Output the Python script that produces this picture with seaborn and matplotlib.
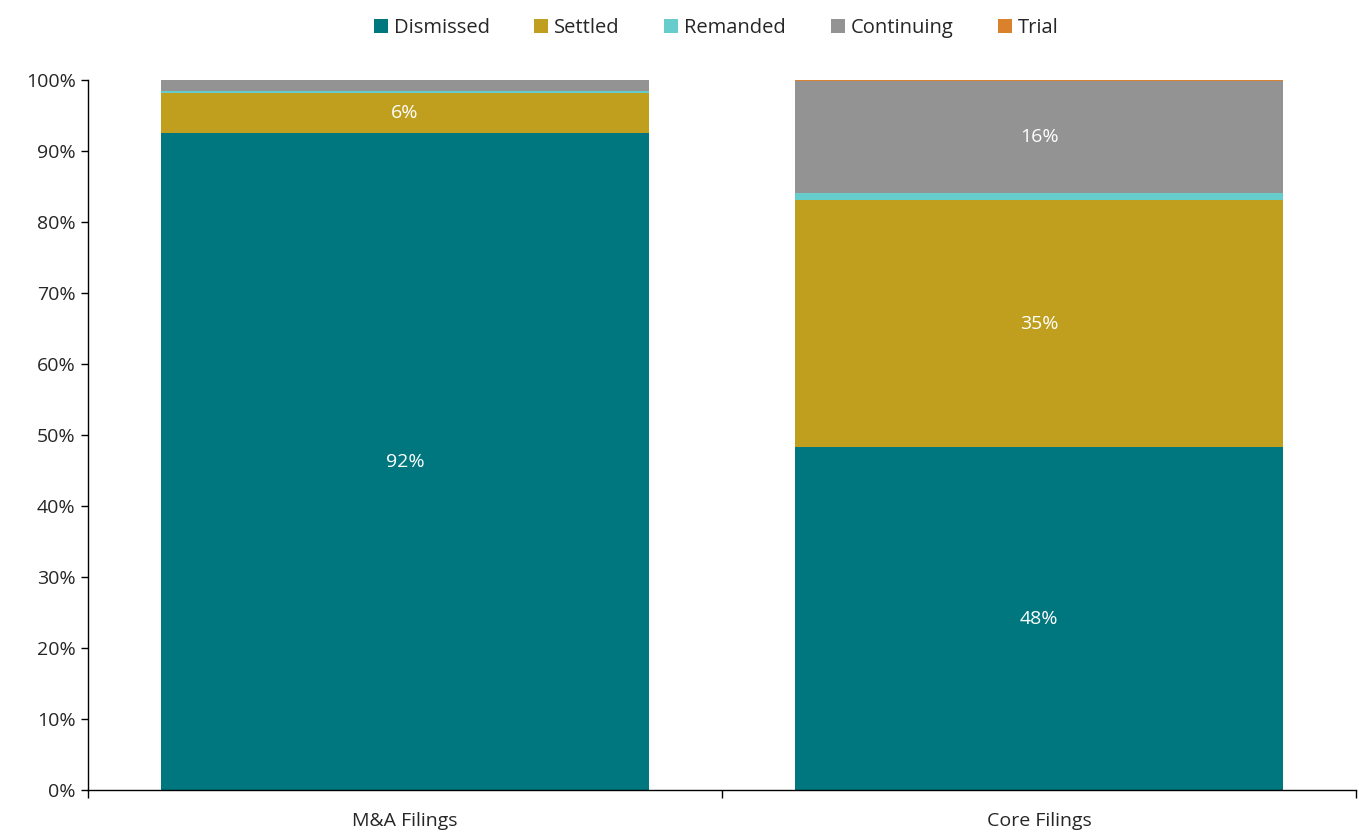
import numpy as np
import pandas as pd
import matplotlib.pyplot as plt
import seaborn as sns

categories = ["M&A Filings", "Core Filings"]
outcomes = ["Dismissed", "Settled", "Remanded", "Continuing", "Trial"]
dismissed = [92.5, 48.3]
settled = [5.7, 34.8]
remanded = [0.2, 1.0]
continuing = [1.6, 15.7]
trial = [0.0, 0.2]
colors = ["#00767E", "#C09F1F", "#66CCCC", "#939393", "#D9822B"]

sns.set_style("white")
plt.rcParams["font.family"] = ["Open Sans", "DejaVu Sans"]

df = pd.DataFrame({"Dismissed": dismissed, "Settled": settled, "Remanded": remanded,
                   "Continuing": continuing, "Trial": trial}, index=categories)

fig = plt.figure(figsize=(13.59, 8.33), dpi=100)
ax = fig.add_axes([0.0648, 0.0516, 0.9330, 0.8524])

bottom = np.zeros(len(categories))
for name, col in zip(outcomes, colors):
    vals = df[name].values
    sns.barplot(x=categories, y=vals, bottom=bottom, color=col, width=0.77,
                saturation=1, label=name, ax=ax, edgecolor="none", linewidth=0)
    for i, v in enumerate(vals):
        if v >= 5:
            ax.text(i, bottom[i] + v / 2, f"{v:.0f}%", ha="center", va="center",
                    color="white", fontsize=14)
    bottom += vals

ax.set_ylim(0, 100)
ax.set_xlim(-0.5, 1.5)
ax.set_yticks(range(0, 101, 10))
ax.set_yticklabels([f"{t}%" for t in range(0, 101, 10)], fontsize=14)
ax.set_xticks([-0.5, 0.5, 1.5])
ax.set_xticklabels([])
ax.set_xticks([0, 1], minor=True)
ax.set_xticklabels(categories, minor=True, fontsize=14)
ax.tick_params(axis="x", which="major", bottom=True, length=6, width=1,
               color="black", direction="out")
ax.tick_params(axis="x", which="minor", bottom=True, length=0, pad=16)
ax.tick_params(axis="y", left=True, length=5, width=1, color="black",
               direction="out", pad=4)
ax.set_xlabel("")
ax.set_ylabel("")
for s in ["top", "right"]:
    ax.spines[s].set_visible(False)
for s in ["left", "bottom"]:
    ax.spines[s].set_color("black")
    ax.spines[s].set_linewidth(1)

if ax.get_legend() is not None:
    ax.get_legend().remove()
handles, labels = ax.get_legend_handles_labels()
fig.legend(handles, labels, loc="upper center", bbox_to_anchor=(0.527, 1.0), ncol=5,
           frameon=False, fontsize=14.5, handlelength=0.7, handleheight=0.7,
           handletextpad=0.3, columnspacing=2.2)

fig.savefig("out.png", dpi=100)
